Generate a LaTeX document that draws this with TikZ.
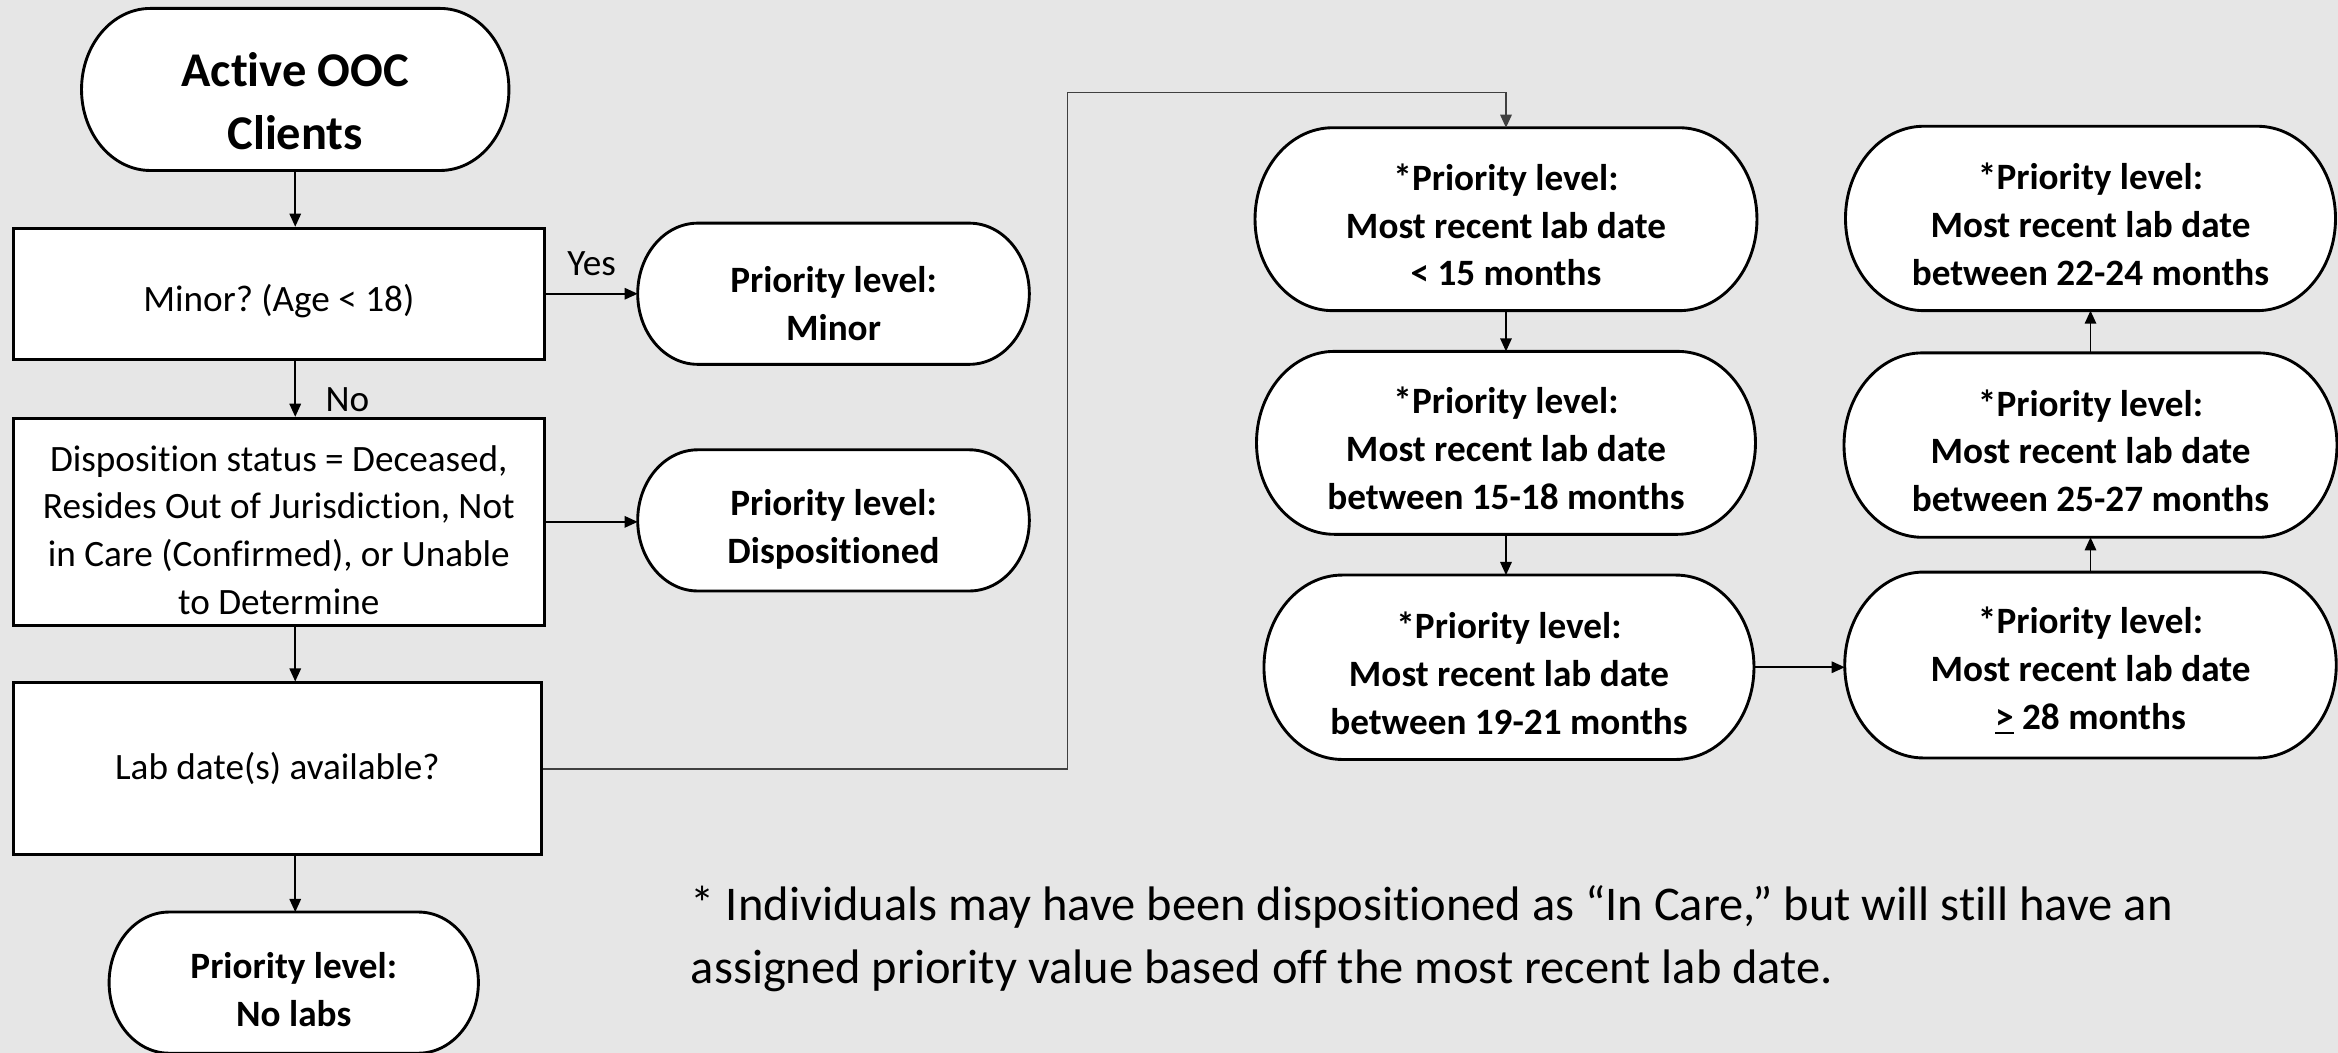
\documentclass[tikz,border=0pt]{standalone}
\usepackage{fontspec}
\setmainfont{Carlito}[Ligatures=NoCommon]
\usetikzlibrary{calc,arrows.meta,positioning}
\pgfdeclarelayer{back}
\pgfsetlayers{back,main}
\definecolor{bgGray}{RGB}{230,230,230}
\definecolor{lnGray}{RGB}{64,64,64}
\frenchspacing
\tikzset{
  boxNd/.style={draw,line width=1.1pt,fill=white,align=center,inner sep=3pt,font=\fontsize{14.2}{18.3}\selectfont},
  pillNd/.style={align=center,inner sep=0pt,font=\bfseries\fontsize{14.2}{18.3}\selectfont},
  pillLn/.style={draw,fill=white,line width=1.1pt},
  lnk/.style={-{Triangle[length=5pt,width=4.4pt]},line width=0.6pt},
  lblNd/.style={font=\fontsize{14.2}{18.3}\selectfont},
  txtDn/.style={execute at begin node={\rule{0pt}{#1}}}
}

\begin{document}
\begin{tikzpicture}[x=0.02cm,y=-0.02cm]
\useasboundingbox (0,0) rectangle (1568,706);
%left column
\node[pillNd,txtDn=46.3pt,minimum width=5.72cm,minimum height=2.16cm,font=\bfseries\fontsize{18.5}{24.4}\selectfont] (nStart) at (198,60) {Active OOC\\Clients};
\node[boxNd,txtDn=16.2pt,minimum width=7.12cm,minimum height=1.76cm] (nMinor) at (187,197) {Minor? (Age < 18)};
\node[pillNd,txtDn=35.9pt,minimum width=5.24cm,minimum height=1.88cm] (nPMinor) at (559,197) {Priority level:\\Minor};
\node[boxNd,txtDn=71.1pt,minimum width=7.12cm,minimum height=2.78cm] (nDisp) at (187,350) {Disposition status = Deceased,\\Resides Out of Jurisdiction, Not\\in Care (Confirmed), or Unable\\to Determine};
\node[pillNd,txtDn=35.3pt,minimum width=5.24cm,minimum height=1.88cm] (nPDisp) at (559,349) {Priority level:\\Dispositioned};
\node[boxNd,minimum width=7.08cm,minimum height=2.30cm] (nLab) at (186,515.5) {Lab date(s) available?};
\node[pillNd,txtDn=33.7pt,minimum width=4.94cm,minimum height=1.88cm] (nPNoLab) at (197,659) {Priority level:\\No labs};

%lab date columns
\node[pillNd,txtDn=51.1pt,minimum width=6.72cm,minimum height=2.44cm] (nP15) at (1010,147) {*Priority level:\\Most recent lab date\\< 15 months};
\node[pillNd,txtDn=51.1pt,minimum width=6.68cm,minimum height=2.44cm] (nP1518) at (1010,297) {*Priority level:\\Most recent lab date\\between 15-18 months};
\node[pillNd,txtDn=51.1pt,minimum width=6.56cm,minimum height=2.46cm] (nP1921) at (1012,447.5) {*Priority level:\\Most recent lab date\\between 19-21 months};
\node[pillNd,txtDn=51.1pt,minimum width=6.58cm,minimum height=2.48cm] (nP28) at (1402,446) {*Priority level:\\Most recent lab date\\\underline{>} 28 months};
\node[pillNd,txtDn=51.1pt,minimum width=6.60cm,minimum height=2.46cm] (nP2527) at (1402,298.5) {*Priority level:\\Most recent lab date\\between 25-27 months};
\node[pillNd,txtDn=51.1pt,minimum width=6.56cm,minimum height=2.46cm] (nP2224) at (1402,146.5) {*Priority level:\\Most recent lab date\\between 22-24 months};

\node[lblNd,anchor=west,align=left,inner sep=0pt,font=\fontsize{18.5}{23.8}\selectfont] (nNote) at (463,629.5) {* Individuals may have been dispositioned as “In Care,” but will still have an\\assigned priority value based off the most recent lab date.};

\draw[lnk] (nStart.south) -- (nMinor.north -| nStart.south);
\draw[lnk] (nMinor.east) -- node[lblNd,above=3.3pt]{Yes} (nPMinor.west |- nMinor.east);
\draw[lnk] (nMinor.south -| nStart.south) -- node[lblNd,pos=0.7,right=8pt]{No} (nDisp.north -| nStart.south);
\draw[lnk] (nDisp.east) -- (nPDisp.west |- nDisp.east);
\draw[lnk] (nDisp.south -| nStart.south) -- (nLab.north -| nStart.south);
\draw[lnk] (nLab.south -| nStart.south) -- (nPNoLab.north -| nStart.south);

\coordinate (cTurnPt) at (716,62);
\draw[lnk,lnGray,line width=0.65pt] (nLab.east) -| (cTurnPt) -| (nP15.north);
\draw[lnk] (nP15.south) -- (nP1518.north);
\draw[lnk] (nP1518.south) -- (nP1921.north -| nP1518.south);
\draw[lnk] (nP1921.east) -- (nP28.west |- nP1921.east);
\draw[lnk] (nP28.north) -- (nP2527.south);
\draw[lnk] (nP2527.north) -- (nP2224.south);

\begin{pgfonlayer}{back}
\fill[bgGray] (0,0) rectangle (1568,706);
\foreach \v in {nStart,nPMinor,nPDisp,nPNoLab,nP15,nP1518,nP1921,nP28,nP2527,nP2224}
{
    \path[pillLn] let \p1=(\v.north west), \p2=(\v.south east), \n1={(\y1-\y2)/2}, \n2={0.85*\n1} in
      (\x1+\n2,\y1) -- (\x2-\n2,\y1) arc[start angle=90,end angle=-90,x radius=\n2,y radius=\n1]
      -- (\x1+\n2,\y2) arc[start angle=270,end angle=90,x radius=\n2,y radius=\n1] -- cycle;
};
\end{pgfonlayer}
\end{tikzpicture}
\end{document}
